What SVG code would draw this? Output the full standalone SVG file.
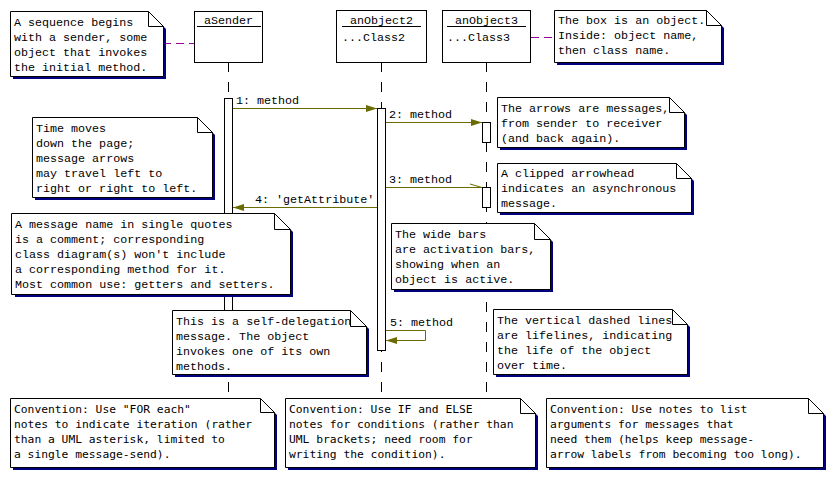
<svg xmlns="http://www.w3.org/2000/svg" width="836" height="478" viewBox="0 0 836 478">
<style>
.t{font-family:"Liberation Mono","Courier New",monospace;font-size:11.7px;fill:#000}
.s{font-family:"DejaVu Sans Mono","Liberation Mono",monospace;font-size:11.3px;fill:#000}
.box{fill:#fff;stroke:#000;stroke-width:1}
.shadow{fill:#000080}
.note{fill:#fff;stroke:#000;stroke-width:1}
.fold{fill:none;stroke:#000;stroke-width:1}
.life{stroke:#000;stroke-width:1;stroke-dasharray:10 10;fill:none}
.bar{fill:#fff;stroke:#000;stroke-width:1}
.msg{stroke:#6b6b00;stroke-width:1;fill:none}
.anchor{stroke:#990099;stroke-width:1;stroke-dasharray:8 5;fill:none}
.ul{stroke:#000;stroke-width:1}
</style>
<defs>
<marker id="ah" markerUnits="userSpaceOnUse" markerWidth="12" markerHeight="8" refX="11" refY="4" orient="auto">
<path d="M0,0.5 L11,4 L0,7.5 z" fill="#6b6b00"/>
</marker>
</defs>
<rect width="836" height="478" fill="#fff"/>

<g id="lifelines">
<line class="life" x1="228.5" y1="62" x2="228.5" y2="393"/>
<line class="life" x1="381.5" y1="62" x2="381.5" y2="393"/>
<line class="life" x1="486.5" y1="62" x2="486.5" y2="393"/>
</g>

<g id="obj-aSender">
<rect class="box" x="194.5" y="11.5" width="68" height="51"/>
<line class="ul" x1="197" y1="26.5" x2="261" y2="26.5"/>
<text class="t" x="228.5" y="24" text-anchor="middle">aSender</text>
</g>
<g id="obj-anObject2">
<rect class="box" x="336.5" y="10.5" width="90" height="52"/>
<line class="ul" x1="342" y1="26.5" x2="421" y2="26.5"/>
<text class="t" x="381.5" y="24" text-anchor="middle">anObject2</text>
<text class="t" x="342" y="41">...Class2</text>
</g>
<g id="obj-anObject3">
<rect class="box" x="442.5" y="10.5" width="88" height="52"/>
<line class="ul" x1="447" y1="26.5" x2="526" y2="26.5"/>
<text class="t" x="486.5" y="24" text-anchor="middle">anObject3</text>
<text class="t" x="447" y="41">...Class3</text>
</g>

<g id="bars">
<rect class="bar" x="224.5" y="98.5" width="8" height="250"/>
<rect class="bar" x="377.5" y="108.5" width="8" height="242"/>
<rect class="bar" x="482.5" y="122.5" width="8" height="20"/>
<rect class="bar" x="482.5" y="187.5" width="8" height="20"/>
</g>

<g id="connectors">
<line class="anchor" x1="163" y1="43.5" x2="194" y2="43.5"/>
<line class="anchor" x1="531" y1="37.5" x2="554" y2="37.5"/>
<line class="msg" x1="233" y1="108.5" x2="377" y2="108.5" marker-end="url(#ah)"/>
<text class="t" x="236" y="104">1: method</text>
<line class="msg" x1="386" y1="122.5" x2="482" y2="122.5" marker-end="url(#ah)"/>
<text class="t" x="389" y="118">2: method</text>
<line class="msg" x1="386" y1="187.5" x2="482" y2="187.5"/>
<line class="msg" x1="470" y1="184" x2="482" y2="187.5"/>
<text class="t" x="389" y="183">3: method</text>
<line class="msg" x1="377" y1="207.5" x2="233" y2="207.5" marker-end="url(#ah)"/>
<text class="t" x="255" y="203">4: 'getAttribute'</text>
<polyline class="msg" points="386,330.5 425.5,330.5 425.5,340.5 386,340.5" marker-end="url(#ah)"/>
<text class="t" x="390" y="326">5: method</text>
</g>

<g id="note-sequence">
<path class="shadow" d="M13,14 H151 L166,29 V79 H13 z"/>
<path class="note" d="M10.5,11.5 H148.5 L163.5,26.5 V76.5 H10.5 z"/>
<path class="fold" d="M148.5,11.5 V26.5 H163.5"/>
<text class="t" x="14" y="26">A sequence begins</text>
<text class="t" x="14" y="41">with a sender, some</text>
<text class="t" x="14" y="56">object that invokes</text>
<text class="t" x="14" y="71">the initial method.</text>
</g>

<g id="note-box">
<path class="shadow" d="M557,13 H709 L724,28 V65 H557 z"/>
<path class="note" d="M554.5,10.5 H706.5 L721.5,25.5 V62.5 H554.5 z"/>
<path class="fold" d="M706.5,10.5 V25.5 H721.5"/>
<text class="t" x="558" y="24">The box is an object.</text>
<text class="t" x="558" y="39">Inside: object name,</text>
<text class="t" x="558" y="54">then class name.</text>
</g>

<g id="note-time">
<path class="shadow" d="M35,120 H200 L215,135 V200 H35 z"/>
<path class="note" d="M32.5,117.5 H197.5 L212.5,132.5 V197.5 H32.5 z"/>
<path class="fold" d="M197.5,117.5 V132.5 H212.5"/>
<text class="t" x="36" y="132">Time moves</text>
<text class="t" x="36" y="147">down the page;</text>
<text class="t" x="36" y="162">message arrows</text>
<text class="t" x="36" y="177">may travel left to</text>
<text class="t" x="36" y="192">right or right to left.</text>
</g>

<g id="note-quotes">
<path class="shadow" d="M15,216 H277 L293,232 V297 H15 z"/>
<path class="note" d="M11.5,213.5 H274.5 L290.5,229.5 V294.5 H11.5 z"/>
<path class="fold" d="M274.5,213.5 V229.5 H290.5"/>
<text class="t" x="15" y="228">A message name in single quotes</text>
<text class="t" x="15" y="243">is a comment; corresponding</text>
<text class="t" x="15" y="258">class diagram(s) won't include</text>
<text class="t" x="15" y="273">a corresponding method for it.</text>
<text class="t" x="15" y="288">Most common use: getters and setters.</text>
</g>

<g id="note-arrows">
<path class="shadow" d="M500,100 H672 L687,115 V150 H500 z"/>
<path class="note" d="M497.5,97.5 H669.5 L684.5,112.5 V147.5 H497.5 z"/>
<path class="fold" d="M669.5,97.5 V112.5 H684.5"/>
<text class="t" x="501" y="112">The arrows are messages,</text>
<text class="t" x="501" y="127">from sender to receiver</text>
<text class="t" x="501" y="142">(and back again).</text>
</g>

<g id="note-clipped">
<path class="shadow" d="M500,166 H679 L694,181 V215 H500 z"/>
<path class="note" d="M497.5,163.5 H676.5 L691.5,178.5 V212.5 H497.5 z"/>
<path class="fold" d="M676.5,163.5 V178.5 H691.5"/>
<text class="t" x="501" y="177">A clipped arrowhead</text>
<text class="t" x="501" y="192">indicates an asynchronous</text>
<text class="t" x="501" y="207">message.</text>
</g>

<g id="note-bars">
<path class="shadow" d="M394,226 H537 L553,242 V292 H394 z"/>
<path class="note" d="M391.5,223.5 H534.5 L550.5,239.5 V289.5 H391.5 z"/>
<path class="fold" d="M534.5,223.5 V239.5 H550.5"/>
<text class="t" x="395" y="238">The wide bars</text>
<text class="t" x="395" y="253">are activation bars,</text>
<text class="t" x="395" y="268">showing when an</text>
<text class="t" x="395" y="283">object is active.</text>
</g>

<g id="note-self">
<path class="shadow" d="M175,313 H353 L369,329 V377 H175 z"/>
<path class="note" d="M172.5,310.5 H350.5 L366.5,326.5 V374.5 H172.5 z"/>
<path class="fold" d="M350.5,310.5 V326.5 H366.5"/>
<text class="t" x="176" y="325">This is a self-delegation</text>
<text class="t" x="176" y="340">message. The object</text>
<text class="t" x="176" y="355">invokes one of its own</text>
<text class="t" x="176" y="370">methods.</text>
</g>

<g id="note-lifelines">
<path class="shadow" d="M496,312 H675 L690,327 V377 H496 z"/>
<path class="note" d="M493.5,309.5 H672.5 L687.5,324.5 V374.5 H493.5 z"/>
<path class="fold" d="M672.5,309.5 V324.5 H687.5"/>
<text class="t" x="497" y="324">The vertical dashed lines</text>
<text class="t" x="497" y="339">are lifelines, indicating</text>
<text class="t" x="497" y="354">the life of the object</text>
<text class="t" x="497" y="369">over time.</text>
</g>

<g id="note-for">
<path class="shadow" d="M13,401 H263 L277,415 V470 H13 z"/>
<path class="note" d="M10.5,398.5 H260.5 L274.5,412.5 V467.5 H10.5 z"/>
<path class="fold" d="M260.5,398.5 V412.5 H274.5"/>
<text class="s" x="14" y="413">Convention: Use "FOR each"</text>
<text class="s" x="14" y="428">notes to indicate iteration (rather</text>
<text class="s" x="14" y="443">than a UML asterisk, limited to</text>
<text class="s" x="14" y="458">a single message-send).</text>
</g>

<g id="note-if">
<path class="shadow" d="M288,401 H523 L538,416 V470 H288 z"/>
<path class="note" d="M285.5,398.5 H520.5 L535.5,413.5 V467.5 H285.5 z"/>
<path class="fold" d="M520.5,398.5 V413.5 H535.5"/>
<text class="s" x="289" y="413">Convention: Use IF and ELSE</text>
<text class="s" x="289" y="428">notes for conditions (rather than</text>
<text class="s" x="289" y="443">UML brackets; need room for</text>
<text class="s" x="289" y="458">writing the condition).</text>
</g>

<g id="note-args">
<path class="shadow" d="M549,401 H811 L826,416 V470 H549 z"/>
<path class="note" d="M546.5,398.5 H808.5 L823.5,413.5 V467.5 H546.5 z"/>
<path class="fold" d="M808.5,398.5 V413.5 H823.5"/>
<text class="s" x="550" y="413">Convention: Use notes to list</text>
<text class="s" x="550" y="428">arguments for messages that</text>
<text class="s" x="550" y="443">need them (helps keep message-</text>
<text class="s" x="550" y="458">arrow labels from becoming too long).</text>
</g>
</svg>
